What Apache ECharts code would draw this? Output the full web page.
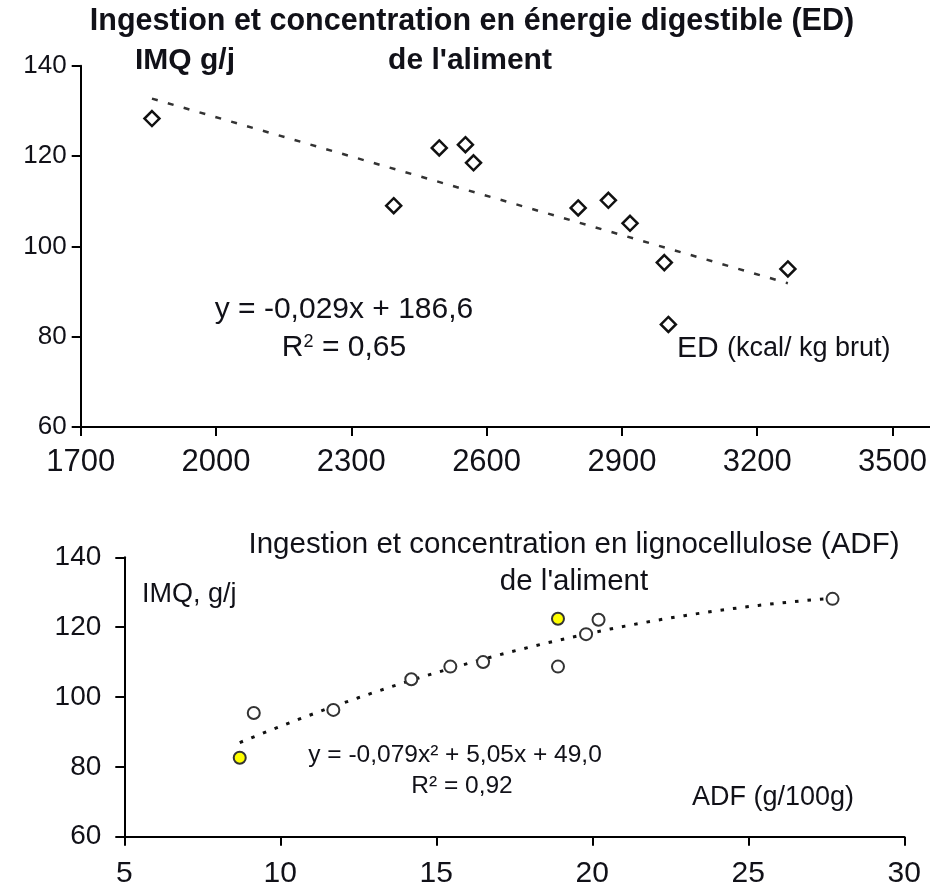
<!DOCTYPE html>
<html>
<head>
<meta charset="utf-8">
<script src="https://cdn.jsdelivr.net/npm/echarts@6/dist/echarts.min.js"></script>
<style>
  html, body { margin: 0; padding: 0; background: #fff; }
  #chart { width: 930px; height: 890px; }
</style>
</head>
<body>
<div id="chart"></div>
<script>
// ---- Data ----
// Top chart: intake (IMQ, g/j) vs digestible energy (ED, kcal/kg brut)
var edX = [1858, 2394, 2495, 2553, 2571, 2803, 2870, 2918, 2994, 3003, 3268];
var edY = [128.3, 109.0, 121.8, 122.5, 118.5, 108.5, 110.2, 105.1, 96.4, 82.7, 95.0];
var edTrendCoef = [-0.029, 186.6];           // y = a*x + b
var edTicksX = [1700, 3500, 300];            // min, max, interval
var imqTicks = [60, 140, 20];

// Bottom chart: intake vs ADF (g/100g)
var adfX = [8.7, 9.15, 11.7, 14.2, 15.45, 16.5, 18.9, 18.9, 19.8, 20.2, 27.7];
var adfY = [82.6, 95.4, 96.3, 105.1, 108.7, 110.0, 122.4, 108.7, 118.0, 122.1, 128.1];
var adfHighlight = [1, 0, 0, 0, 0, 0, 1, 0, 0, 0, 0];
var adfTrendCoef = [-0.079, 5.05, 49.0];     // y = a*x^2 + b*x + c
var adfTicksX = [5, 30, 5];

// ---- Build series data ----
var edPoints = edX.map(function (x, i) { return [x, edY[i]]; });
var edMin = Math.min.apply(null, edX), edMax = Math.max.apply(null, edX);
var edTrend = [edMin, edMax].map(function (x) { return [x, edTrendCoef[0] * x + edTrendCoef[1]]; });

var adfPoints = adfX.map(function (x, i) {
  var hl = adfHighlight[i] === 1;
  return {
    value: [x, adfY[i]],
    itemStyle: { color: hl ? '#ffff00' : '#ffffff', borderColor: '#333333' }
  };
});
var adfMin = Math.min.apply(null, adfX), adfMax = Math.max.apply(null, adfX);
var adfTrend = [];
var steps = 40;
for (var k = 0; k <= steps; k++) {
  var xx = adfMin + (adfMax - adfMin) * k / steps;
  adfTrend.push([xx, adfTrendCoef[0] * xx * xx + adfTrendCoef[1] * xx + adfTrendCoef[2]]);
}

var FONT = '"Liberation Sans", Arial, Helvetica, sans-serif';
var NARROW = '"Liberation Sans Narrow", "Arial Narrow", "Liberation Sans", Arial, sans-serif';
var TXT = '#111118';

function plain(v) { return String(v); }

function axisCommon(extra) {
  var base = {
    type: 'value',
    axisLine: { show: true, onZero: false, lineStyle: { color: '#000', width: 2 } },
    axisTick: { show: true, inside: false, length: 9, lineStyle: { color: '#000', width: 2 } },
    splitLine: { show: false },
    axisLabel: { color: TXT, fontSize: 28, fontFamily: FONT, formatter: plain }
  };
  for (var key in extra) {
    if (typeof extra[key] === 'object' && base[key] && !Array.isArray(extra[key])) {
      for (var k2 in extra[key]) base[key][k2] = extra[key][k2];
    } else base[key] = extra[key];
  }
  return base;
}

var chart = echarts.init(document.getElementById('chart'), null, { renderer: 'canvas' });

var option = {
  backgroundColor: '#ffffff',
  animation: false,
  grid: [
    { left: 80.7, right: 37, top: 65.7, bottom: 463, containLabel: false },
    { left: 124.3, right: 25.7, top: 557.3, bottom: 53.3, containLabel: false }
  ],
  xAxis: [
    axisCommon({ gridIndex: 0, min: edTicksX[0], max: edTicksX[1], interval: edTicksX[2],
      axisLabel: { margin: 20, fontFamily: NARROW, fontSize: 31 } }),
    axisCommon({ gridIndex: 1, min: adfTicksX[0], max: adfTicksX[1], interval: adfTicksX[2],
      axisLabel: { margin: 22, fontFamily: NARROW, fontSize: 30 } })
  ],
  yAxis: [
    axisCommon({ gridIndex: 0, min: imqTicks[0], max: imqTicks[1], interval: imqTicks[2],
      axisLabel: { margin: 14, fontFamily: NARROW, fontSize: 26 } }),
    axisCommon({ gridIndex: 1, min: imqTicks[0], max: imqTicks[1], interval: imqTicks[2],
      axisLabel: { margin: 23 } })
  ],
  series: [
    {
      type: 'line', xAxisIndex: 0, yAxisIndex: 0, data: edTrend,
      symbol: 'none', silent: true, z: 2,
      lineStyle: { color: '#333', width: 2.5, type: [6, 10.5] }
    },
    {
      type: 'scatter', xAxisIndex: 0, yAxisIndex: 0, data: edPoints,
      symbol: 'diamond', symbolSize: 15, z: 5,
      itemStyle: { color: '#ffffff', borderColor: '#111', borderWidth: 2.5, opacity: 1 }
    },
    {
      type: 'line', xAxisIndex: 1, yAxisIndex: 1, data: adfTrend,
      symbol: 'none', silent: true, smooth: false, z: 2,
      lineStyle: { color: '#111', width: 3, type: [3.5, 9], cap: 'butt' }
    },
    {
      type: 'scatter', xAxisIndex: 1, yAxisIndex: 1, data: adfPoints,
      symbol: 'circle', symbolSize: 12, z: 5,
      itemStyle: { borderWidth: 2, opacity: 1 }
    }
  ],
  graphic: [
    // extension of the top x axis line beyond the last tick
    { type: 'line', shape: { x1: 893, y1: 427, x2: 930, y2: 427 }, style: { stroke: '#000', lineWidth: 2 }, z: 10 },
    // Top chart texts
    { type: 'text', x: 472, y: 22, style: { text: 'Ingestion et concentration en énergie digestible (ED)',
      font: 'bold 30.5px ' + FONT, fill: TXT, textAlign: 'center', textVerticalAlign: 'middle' } },
    { type: 'text', x: 135, y: 61, style: { text: 'IMQ g/j',
      font: 'bold 30px ' + FONT, fill: TXT, textAlign: 'left', textVerticalAlign: 'middle' } },
    { type: 'text', x: 470, y: 61, style: { text: "de l'aliment",
      font: 'bold 30px ' + FONT, fill: TXT, textAlign: 'center', textVerticalAlign: 'middle' } },
    { type: 'text', x: 344, y: 310, style: { text: 'y = -0,029x + 186,6',
      font: '30px ' + FONT, fill: TXT, textAlign: 'center', textVerticalAlign: 'middle' } },
    { type: 'text', x: 344, y: 348, style: { text: 'R{s|2} = 0,65',
      font: '30px ' + FONT, fill: TXT, textAlign: 'center', textVerticalAlign: 'middle',
      rich: { s: { fontSize: 18, fontFamily: FONT, fill: TXT, verticalAlign: 'top', padding: [0, 0, 12, 0] } } } },
    { type: 'text', x: 677, y: 349, style: { text: 'ED {s|(kcal/ kg brut)}',
      font: '30px ' + FONT, fill: TXT, textAlign: 'left', textVerticalAlign: 'middle',
      rich: { s: { fontSize: 27, fontFamily: FONT, fill: TXT } } } },
    // Bottom chart texts
    { type: 'text', x: 574, y: 545, style: { text: 'Ingestion et concentration en lignocellulose (ADF)',
      font: '29.5px ' + FONT, fill: TXT, textAlign: 'center', textVerticalAlign: 'middle' } },
    { type: 'text', x: 574, y: 582, style: { text: "de l'aliment",
      font: '29.5px ' + FONT, fill: TXT, textAlign: 'center', textVerticalAlign: 'middle' } },
    { type: 'text', x: 142, y: 595, style: { text: 'IMQ, g/j',
      font: '27px ' + FONT, fill: TXT, textAlign: 'left', textVerticalAlign: 'middle' } },
    { type: 'text', x: 455, y: 755, style: { text: 'y = -0,079x² + 5,05x + 49,0',
      font: '24.5px ' + FONT, fill: TXT, textAlign: 'center', textVerticalAlign: 'middle' } },
    { type: 'text', x: 462, y: 786, style: { text: 'R² = 0,92',
      font: '24.5px ' + FONT, fill: TXT, textAlign: 'center', textVerticalAlign: 'middle' } },
    { type: 'text', x: 692, y: 798, style: { text: 'ADF (g/100g)',
      font: '27px ' + FONT, fill: TXT, textAlign: 'left', textVerticalAlign: 'middle' } }
  ]
};

chart.setOption(option);
</script>
</body>
</html>
